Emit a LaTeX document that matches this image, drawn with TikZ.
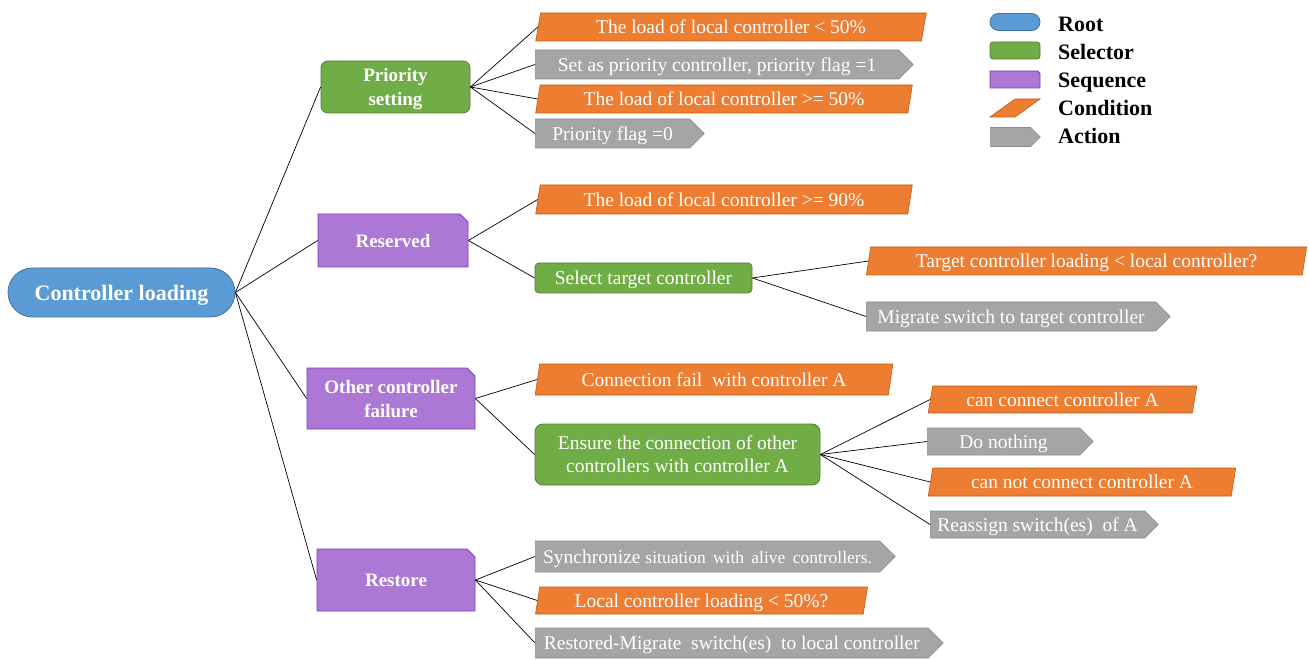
\documentclass[tikz,border=0pt]{standalone}
\usepackage{fontspec}
\setmainfont{Liberation Serif}
\usetikzlibrary{shapes.geometric,shapes.symbols,shapes.misc}
\definecolor{cblue}{HTML}{5B9BD5}
\definecolor{cbluedk}{HTML}{41719C}
\definecolor{cgreen}{HTML}{70AD47}
\definecolor{cgreendk}{HTML}{507E32}
\definecolor{cpurple}{HTML}{AD77D6}
\definecolor{cpurpledk}{HTML}{7E3FB8}
\definecolor{corange}{HTML}{ED7D31}
\definecolor{corangedk}{HTML}{C55A11}
\definecolor{cgray}{HTML}{A5A5A5}
\definecolor{cgraydk}{HTML}{8C8C8C}
\newcommand{\regfont}{\fontsize{19.5}{23}\selectfont}
\newcommand{\smfont}{\fontsize{17.5}{20}\selectfont}
\newcommand{\boldfont}{\bfseries\fontsize{19}{24}\selectfont}
\newcommand{\legfont}{\bfseries\fontsize{22}{26}\selectfont}
\tikzset{
  rootnode/.style={rounded rectangle, fill=cblue, draw=cbluedk, line width=0.8pt, text=white, inner sep=0pt, text depth=0pt},
  selnode/.style={rectangle, rounded corners=7pt, fill=cgreen, draw=cgreendk, line width=0.8pt, text=white, inner sep=0pt, align=center, text depth=0pt},
  seqnode/.style={chamfered rectangle, chamfered rectangle corners=north east, chamfered rectangle xsep=4pt, chamfered rectangle ysep=4pt, fill=cpurple, draw=cpurpledk, line width=0.8pt, text=white, inner sep=0pt, align=center, text depth=0pt},
  condnode/.style={trapezium, trapezium stretches=true, trapezium left angle=76, trapezium right angle=104, fill=corange, draw=corangedk, line width=0.6pt, text=white, inner sep=0pt, text depth=0pt},
  actnode/.style={signal, signal to=east, signal pointer angle=90, fill=cgray, draw=cgraydk, line width=0.6pt, text=white, inner sep=0pt, anchor=west, text depth=0pt},
  leglabel/.style={anchor=base west, font=\legfont, inner sep=0pt},
  link/.style={draw=black, line width=0.7pt}
}
\begin{document}
\begin{tikzpicture}[x=1pt,y=-1pt]
\useasboundingbox (0,0) rectangle (1309,660);
% level 0
\node[rootnode, minimum width=227pt, minimum height=49pt, font=\bfseries\fontsize{22}{26}\selectfont] (root) at (121.5,292.5) {Controller loading};
% level 1
\node[selnode, minimum width=149pt, minimum height=52pt, font=\boldfont] (ps) at (395.5,87) {Priority\\setting};
\node[seqnode, minimum width=150pt, minimum height=53pt, font=\boldfont] (res) at (393,240.5) {Reserved};
\node[seqnode, minimum width=168pt, minimum height=61pt, font=\boldfont] (ocf) at (391,398.5) {Other controller\\failure};
\node[seqnode, minimum width=158pt, minimum height=62pt, font=\boldfont] (rst) at (396,580) {Restore};
% priority setting children
\node[condnode, minimum width=392pt, minimum height=28pt, font=\regfont] (c1) at (731,27) {The load of local controller < 50\%};
\node[actnode, minimum width=378pt, minimum height=29pt, font=\regfont] (a1) at (535,64.5) {Set as priority controller, priority flag =1};
\node[condnode, minimum width=378pt, minimum height=28pt, font=\regfont] (c2) at (724,99) {The load of local controller >= 50\%};
\node[actnode, minimum width=169pt, minimum height=29pt, font=\regfont] (a2) at (535,133.5) {Priority flag =0};
% reserved children
\node[condnode, minimum width=378pt, minimum height=29pt, font=\regfont] (c3) at (724,199.5) {The load of local controller >= 90\%};
\node[selnode, rounded corners=4pt, minimum width=217pt, minimum height=30pt, font=\regfont] (s2) at (643.5,278) {Select target controller};
\node[condnode, minimum width=441pt, minimum height=28pt, font=\regfont] (c4) at (1086.5,261) {Target controller loading < local controller?};
\node[actnode, minimum width=304pt, minimum height=29pt, font=\regfont] (a3) at (866,316.5) {Migrate switch to target controller};
% other controller failure children
\node[condnode, minimum width=358pt, minimum height=31pt, font=\regfont] (c5) at (714,379.5) {Connection fail\ \ with controller A};
\node[selnode, minimum width=285pt, minimum height=61pt, font=\regfont, rounded corners=8pt] (s3) at (677.5,454.5) {Ensure the connection of other\\controllers with controller A};
\node[condnode, minimum width=269pt, minimum height=27pt, font=\regfont] (c6) at (1062.5,399.5) {can connect\ controller A};
\node[actnode, minimum width=166pt, minimum height=27pt, font=\regfont] (a4) at (927,441.5) {Do nothing};
\node[condnode, minimum width=308pt, minimum height=28pt, font=\regfont] (c7) at (1082,482) {can not connect controller A};
\node[actnode, minimum width=228pt, minimum height=27pt, font=\regfont] (a5) at (930,524.5) {Reassign switch(es)\ \ of A};
% restore children
\node[actnode, minimum width=360pt, minimum height=31pt, font=\regfont] (a6) at (535,556.5) {Synchronize\ {\smfont situation\ \,with\ \,alive\ \,controllers.}};
\node[condnode, minimum width=333pt, minimum height=27pt, font=\regfont] (c8) at (701.5,600.5) {Local controller loading < 50\%?};
\node[actnode, minimum width=408pt, minimum height=30pt, font=\regfont] (a7) at (535,643) {Restored-Migrate\ \ switch(es)\ \ to local controller};
% legend
\node[rootnode, minimum width=50pt, minimum height=17pt] (lroot) at (1015,22) {\vphantom{x}};
\node[selnode, rounded corners=3pt, minimum width=50pt, minimum height=17pt] (lsel) at (1015,50.5) {\vphantom{x}};
\node[seqnode, chamfered rectangle xsep=3pt, chamfered rectangle ysep=3pt, minimum width=50pt, minimum height=17pt] (lseq) at (1015,79.5) {\vphantom{x}};
\node[condnode, trapezium left angle=82, trapezium right angle=98, minimum width=50pt, minimum height=18pt] (lcond) at (1015,108) {\vphantom{x}};
\node[actnode, minimum width=50pt, minimum height=19pt] (lact) at (990,137) {\vphantom{x}};
\node[leglabel] (troot) at (1058,32) {Root};
\node[leglabel] (tsel) at (1058,60) {Selector};
\node[leglabel] (tseq) at (1058,88) {Sequence};
\node[leglabel] (tcond) at (1058,116) {Condition};
\node[leglabel] (tact) at (1058,144) {Action};
% connectors
\foreach \t in {ps,res,ocf,rst} \draw[link] (root.east) -- (\t.west);
\foreach \t in {c1,a1,c2,a2} \draw[link] (ps.east) -- (\t.west);
\foreach \t in {c3,s2} \draw[link] (res.east) -- (\t.west);
\foreach \t in {c4,a3} \draw[link] (s2.east) -- (\t.west);
\foreach \t in {c5,s3} \draw[link] (ocf.east) -- (\t.west);
\foreach \t in {c6,a4,c7,a5} \draw[link] (s3.east) -- (\t.west);
\foreach \t in {a6,c8,a7} \draw[link] (rst.east) -- (\t.west);
\end{tikzpicture}
\end{document}
